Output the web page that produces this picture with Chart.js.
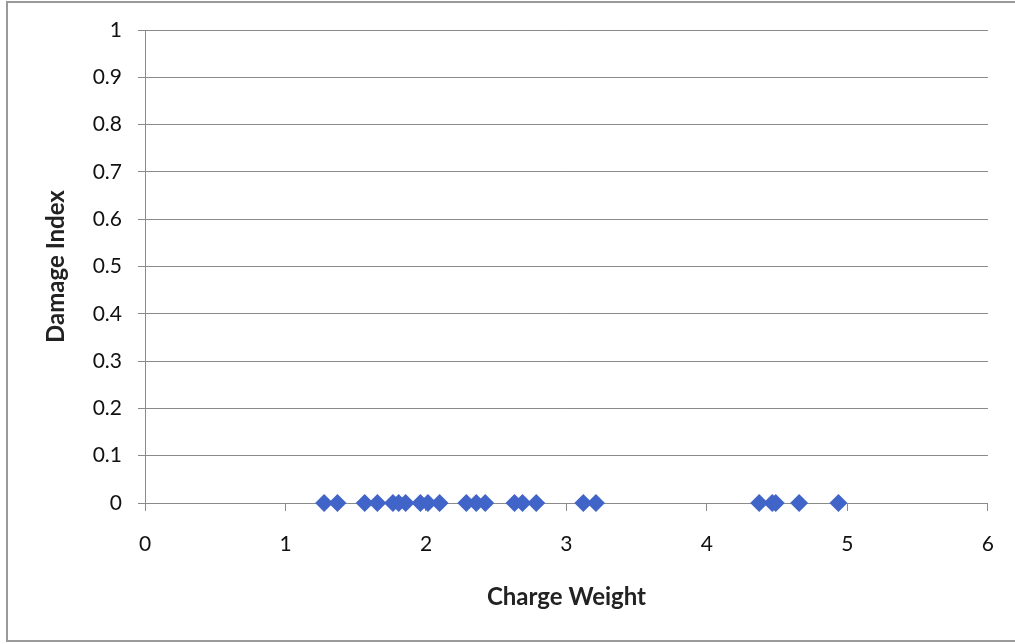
<!DOCTYPE html>
<html>
<head>
<meta charset="utf-8">
<script src="https://cdn.jsdelivr.net/npm/chart.js@4/dist/chart.umd.min.js"></script>
<style>
  html, body { margin: 0; padding: 0; background: #fff; }
  #wrap { position: relative; width: 1015px; height: 644px; }
</style>
</head>
<body>
<div id="wrap"><canvas id="c" width="1015" height="644"></canvas></div>
<script>
const chargeWeight = [1.275, 1.37, 1.564, 1.654, 1.765, 1.806, 1.855, 1.96, 2.014, 2.097,
  2.287, 2.358, 2.422, 2.63, 2.687, 2.785, 3.12, 3.21, 4.372, 4.465, 4.49, 4.656, 4.936];
const damageIndex = [0, 0, 0, 0, 0, 0, 0, 0, 0, 0, 0, 0, 0, 0, 0, 0, 0, 0, 0, 0, 0, 0, 0];
const xTicks = [0, 1, 2, 3, 4, 5, 6];
const yTicks = [0, 0.1, 0.2, 0.3, 0.4, 0.5, 0.6, 0.7, 0.8, 0.9, 1];
const xTitle = 'Charge Weight';
const yTitle = 'Damage Index';

const points = chargeWeight.map((x, i) => ({ x: x, y: damageIndex[i] }));

const borderPlugin = {
  id: 'outerBorder',
  beforeDraw(chart) {
    const ctx = chart.ctx;
    ctx.save();
    ctx.fillStyle = '#fff';
    ctx.fillRect(0, 0, chart.width, chart.height);
    ctx.strokeStyle = '#9a9a9a';
    ctx.lineWidth = 2;
    ctx.strokeRect(7, 2, chart.width + 10, 639);
    ctx.restore();
  }
};

const FONT = 'Lato, "Open Sans", sans-serif';

new Chart(document.getElementById('c'), {
  type: 'scatter',
  data: {
    datasets: [{
      label: yTitle,
      data: points,
      pointStyle: 'rectRot',
      pointRadius: 9,
      pointHoverRadius: 9,
      backgroundColor: '#4164C8',
      borderColor: '#4164C8',
      borderWidth: 0,
      clip: false
    }]
  },
  options: {
    responsive: false,
    animation: false,
    events: [],
    layout: { padding: { left: 42, top: 30, right: 26, bottom: 32 } },
    plugins: { legend: { display: false }, tooltip: { enabled: false } },
    scales: {
      x: {
        type: 'linear',
        min: 0, max: 6,
        afterBuildTicks(scale) { scale.ticks = xTicks.map(v => ({ value: v })); },
        afterFit(scale) { scale.height = 612 - 503; },
        grid: { display: true, drawOnChartArea: false, drawTicks: true, tickLength: 8, color: '#8a8a8a', lineWidth: 1 },
        border: { display: true, color: '#8a8a8a', width: 1 },
        ticks: { color: '#111', font: { family: FONT, size: 21 }, padding: 21, maxRotation: 0 },
        title: { display: true, text: xTitle, color: '#222', font: { family: FONT, size: 24, weight: 'bold' }, padding: { top: 0, bottom: 0 } }
      },
      y: {
        type: 'linear',
        min: 0, max: 1,
        afterBuildTicks(scale) { scale.ticks = yTicks.map(v => ({ value: v })); },
        afterFit(scale) { scale.width = 145 - 42; },
        grid: { display: true, drawOnChartArea: true, drawTicks: true, tickLength: 7, color: '#8a8a8a', lineWidth: 1 },
        border: { display: true, color: '#8a8a8a', width: 1 },
        ticks: { color: '#111', font: { family: FONT, size: 21 }, padding: 16, callback: v => String(v) },
        title: { display: true, text: yTitle, color: '#222', font: { family: FONT, size: 24, weight: 'bold' }, padding: { top: 0, bottom: 0 } }
      }
    }
  },
  plugins: [borderPlugin]
});
</script>
</body>
</html>
